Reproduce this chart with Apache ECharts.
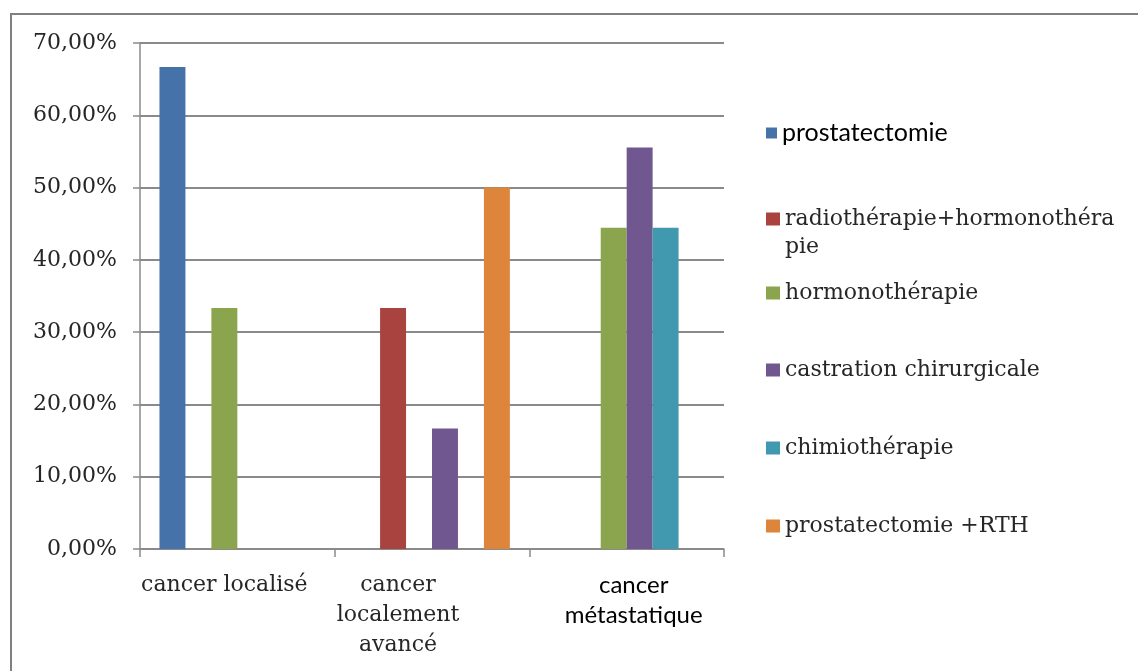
<!DOCTYPE html>
<html>
<head>
<meta charset="utf-8">
<script src="https://cdn.jsdelivr.net/npm/echarts@6/dist/echarts.min.js"></script>
<style>
  html, body { margin: 0; padding: 0; background: #ffffff; }
  #chart { width: 1138px; height: 671px; }
</style>
</head>
<body>
<div id="chart"></div>
<script>
// Categories and their displayed (wrapped) tick labels
const categories = ['cancer localisé', 'cancer localement avancé', 'cancer métastatique'];
const categoryTickLabels = ['cancer localisé', 'cancer\nlocalement\navancé', 'cancer\nmétastatique'];

// Treatments (series) and legend captions
const seriesNames = [
  'prostatectomie',
  'radiothérapie+hormonothérapie',
  'hormonothérapie',
  'castration chirurgicale',
  'chimiothérapie',
  'prostatectomie +RTH'
];
const legendCaptions = [
  'prostatectomie',
  'radiothérapie+hormonothéra\npie',
  'hormonothérapie',
  'castration chirurgicale',
  'chimiothérapie',
  'prostatectomie +RTH'
];

// Percentages per category (null = no bar)
const prostatectomie   = [66.67, null, null];
const radioHormono     = [null, 33.33, null];
const hormonotherapie  = [33.33, null, 44.44];
const castration       = [null, 16.67, 55.56];
const chimiotherapie   = [null, null, 44.44];
const prostatectomieRT = [null, 50.00, null];

// Value axis ticks (percent)
const yMin = 0, yMax = 70, yStep = 10;

const seriesValues = [prostatectomie, radioHormono, hormonotherapie, castration, chimiotherapie, prostatectomieRT];
const seriesColors = ['#4672AA', '#A9433F', '#8AA54D', '#71578F', '#4199AF', '#DC853B'];

// Legend layout (vertical position of each entry)
const legendTops = [119, 177, 279, 356, 434, 512];

const SERIF = '"DejaVu Serif", "Liberation Serif", serif';
const SANS = 'Lato, "Open Sans", sans-serif';
const GRID_GRAY = '#8a8a8a';
const TEXT_GRAY = '#262626';

const chart = echarts.init(document.getElementById('chart'), null, { renderer: 'canvas' });

// One legend block per entry; a wrapped caption gets a leading blank line
// so its swatch lines up with the first line of text.
const legends = seriesNames.map((name, i) => {
  const isSans = i === 0;
  const twoLines = legendCaptions[i].indexOf('\n') >= 0;
  return {
    left: 766,
    top: legendTops[i],
    orient: 'vertical',
    padding: 0,
    icon: 'rect',
    itemWidth: isSans ? 11 : 14,
    itemHeight: isSans ? 11 : 13,
    data: [name],
    formatter: () => (twoLines ? '\n' : '') + legendCaptions[i],
    textStyle: {
      fontFamily: isSans ? SANS : SERIF,
      fontSize: isSans ? 25 : 22,
      color: isSans ? '#000000' : TEXT_GRAY,
      lineHeight: 28
    }
  };
});

const option = {
  animation: false,
  backgroundColor: '#ffffff',
  grid: { left: 140, top: 43, right: 414, bottom: 122, containLabel: false },
  legend: legends,
  xAxis: {
    type: 'category',
    data: categories,
    axisLine: { show: true, lineStyle: { color: GRID_GRAY, width: 1.5 } },
    axisTick: { show: true, length: 8, lineStyle: { color: GRID_GRAY, width: 1.5 } },
    axisLabel: {
      interval: 0,
      margin: 21,
      formatter: (value, index) => {
        const lines = categoryTickLabels[index].split('\n');
        const style = ['r0', 'r1', 's2'][index];
        return lines.map(l => '{' + style + '|' + l + '}').join('\n');
      },
      rich: {
        r0: { fontFamily: SERIF, fontSize: 22, color: TEXT_GRAY, lineHeight: 30, padding: [0, 26, 0, 0] },
        r1: { fontFamily: SERIF, fontSize: 22, color: TEXT_GRAY, lineHeight: 30, padding: [0, 68, 0, 0] },
        s2: { fontFamily: SANS, fontSize: 24, color: '#000000', lineHeight: 30, padding: [0, 0, 0, 14] }
      }
    }
  },
  yAxis: {
    type: 'value',
    min: yMin,
    max: yMax,
    interval: yStep,
    axisLine: { show: true, lineStyle: { color: GRID_GRAY, width: 1.5 } },
    axisTick: { show: true, length: 7, lineStyle: { color: GRID_GRAY, width: 1.5 } },
    splitLine: { show: true, lineStyle: { color: GRID_GRAY, width: 2 } },
    axisLabel: {
      margin: 23,
      fontFamily: SERIF,
      fontSize: 22,
      color: TEXT_GRAY,
      formatter: v => v.toFixed(2).replace('.', ',') + '%'
    }
  },
  series: seriesNames.map((name, i) => ({
    name: name,
    type: 'bar',
    data: seriesValues[i],
    barGap: '0%',
    barCategoryGap: '20%',
    itemStyle: { color: seriesColors[i] }
  })),
  graphic: [{
    type: 'polyline',
    silent: true,
    shape: { points: [[11, 671], [11, 14], [1138, 14]] },
    style: { stroke: '#808080', lineWidth: 2, fill: null }
  }]
};

chart.setOption(option);
</script>
</body>
</html>
